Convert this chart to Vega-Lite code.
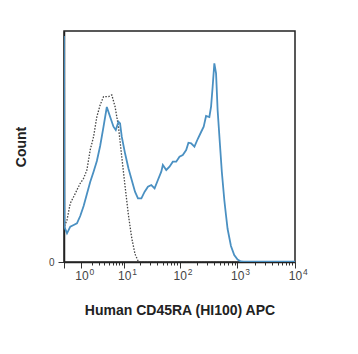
{
  "$schema": "https://vega.github.io/schema/vega-lite/v6.json",
  "width": 231,
  "height": 231,
  "autosize": {"type": "none"},
  "padding": {"left": 64, "top": 31, "right": 63, "bottom": 92},
  "background": "white",
  "config": {"view": {"stroke": "#222", "strokeWidth": 1.5}, "font": "Liberation Sans"},
  "data": {"values": [
    {"series": "CD45RA", "x": 0, "count": 226},
    {"series": "CD45RA", "x": 0.02, "count": 35},
    {"series": "CD45RA", "x": 0.127, "count": 28.7},
    {"series": "CD45RA", "x": 0.284, "count": 35.3},
    {"series": "CD45RA", "x": 0.47, "count": 37},
    {"series": "CD45RA", "x": 0.675, "count": 38.7},
    {"series": "CD45RA", "x": 0.91, "count": 46},
    {"series": "CD45RA", "x": 1.187, "count": 56},
    {"series": "CD45RA", "x": 1.492, "count": 68},
    {"series": "CD45RA", "x": 1.841, "count": 80},
    {"series": "CD45RA", "x": 2.251, "count": 90.3},
    {"series": "CD45RA", "x": 2.707, "count": 101},
    {"series": "CD45RA", "x": 3.226, "count": 116},
    {"series": "CD45RA", "x": 3.836, "count": 135.3},
    {"series": "CD45RA", "x": 4.513, "count": 155},
    {"series": "CD45RA", "x": 5.285, "count": 145.3},
    {"series": "CD45RA", "x": 6.193, "count": 135.3},
    {"series": "CD45RA", "x": 6.883, "count": 132},
    {"series": "CD45RA", "x": 7.773, "count": 140.3},
    {"series": "CD45RA", "x": 8.346, "count": 138.7},
    {"series": "CD45RA", "x": 9.0, "count": 125.3},
    {"series": "CD45RA", "x": 10.4, "count": 108.7},
    {"series": "CD45RA", "x": 12.05, "count": 93.7},
    {"series": "CD45RA", "x": 13.88, "count": 82},
    {"series": "CD45RA", "x": 15.96, "count": 70.3},
    {"series": "CD45RA", "x": 18.1, "count": 63.7},
    {"series": "CD45RA", "x": 20.87, "count": 63.7},
    {"series": "CD45RA", "x": 23.93, "count": 70.3},
    {"series": "CD45RA", "x": 27.41, "count": 75.3},
    {"series": "CD45RA", "x": 31.51, "count": 77},
    {"series": "CD45RA", "x": 36.07, "count": 73.7},
    {"series": "CD45RA", "x": 41.27, "count": 82},
    {"series": "CD45RA", "x": 47.36, "count": 90.3},
    {"series": "CD45RA", "x": 50.5, "count": 97},
    {"series": "CD45RA", "x": 57.98, "count": 92},
    {"series": "CD45RA", "x": 66.2, "count": 95.3},
    {"series": "CD45RA", "x": 75.6, "count": 100.3},
    {"series": "CD45RA", "x": 86.7, "count": 100.3},
    {"series": "CD45RA", "x": 99, "count": 105.3},
    {"series": "CD45RA", "x": 113, "count": 107},
    {"series": "CD45RA", "x": 129.5, "count": 112},
    {"series": "CD45RA", "x": 141.9, "count": 119.3},
    {"series": "CD45RA", "x": 158.1, "count": 118.7},
    {"series": "CD45RA", "x": 180.4, "count": 115.3},
    {"series": "CD45RA", "x": 205.8, "count": 123},
    {"series": "CD45RA", "x": 235.6, "count": 130},
    {"series": "CD45RA", "x": 261.4, "count": 135.3},
    {"series": "CD45RA", "x": 287.4, "count": 146},
    {"series": "CD45RA", "x": 327.9, "count": 145},
    {"series": "CD45RA", "x": 351.1, "count": 155.3},
    {"series": "CD45RA", "x": 374, "count": 175.3},
    {"series": "CD45RA", "x": 400.2, "count": 198.7},
    {"series": "CD45RA", "x": 428.5, "count": 188.7},
    {"series": "CD45RA", "x": 456.1, "count": 152},
    {"series": "CD45RA", "x": 500, "count": 118},
    {"series": "CD45RA", "x": 540, "count": 90},
    {"series": "CD45RA", "x": 596, "count": 62},
    {"series": "CD45RA", "x": 637, "count": 47},
    {"series": "CD45RA", "x": 680, "count": 33},
    {"series": "CD45RA", "x": 777, "count": 16},
    {"series": "CD45RA", "x": 886, "count": 7},
    {"series": "CD45RA", "x": 1013, "count": 2.5},
    {"series": "CD45RA", "x": 1150, "count": 0.6},
    {"series": "CD45RA", "x": 1300, "count": 0.3},
    {"series": "CD45RA", "x": 10000, "count": 0.3},
    {"series": "isotype", "x": 0.02, "count": 36},
    {"series": "isotype", "x": 0.127, "count": 42},
    {"series": "isotype", "x": 0.284, "count": 58.7},
    {"series": "isotype", "x": 0.47, "count": 65.3},
    {"series": "isotype", "x": 0.675, "count": 72},
    {"series": "isotype", "x": 0.91, "count": 78.7},
    {"series": "isotype", "x": 1.187, "count": 83.7},
    {"series": "isotype", "x": 1.492, "count": 92},
    {"series": "isotype", "x": 1.841, "count": 112},
    {"series": "isotype", "x": 2.251, "count": 125.3},
    {"series": "isotype", "x": 2.707, "count": 145.3},
    {"series": "isotype", "x": 3.226, "count": 157},
    {"series": "isotype", "x": 3.836, "count": 165.3},
    {"series": "isotype", "x": 4.897, "count": 165.3},
    {"series": "isotype", "x": 5.724, "count": 167},
    {"series": "isotype", "x": 6.664, "count": 155.3},
    {"series": "isotype", "x": 7.773, "count": 135.3},
    {"series": "isotype", "x": 9.0, "count": 105.3},
    {"series": "isotype", "x": 10.4, "count": 76},
    {"series": "isotype", "x": 12.05, "count": 47},
    {"series": "isotype", "x": 13.88, "count": 24},
    {"series": "isotype", "x": 15.96, "count": 8},
    {"series": "isotype", "x": 18.41, "count": 0.3},
    {"series": "isotype", "x": 10000, "count": 0.3}
  ]},
  "layer": [
    {
      "transform": [{"filter": "datum.series === 'isotype'"}],
      "mark": {"type": "line", "color": "#444", "strokeDash": [1.5, 1.5], "strokeWidth": 1.3, "clip": true},
      "encoding": {
        "x": {
          "field": "x",
          "type": "quantitative",
          "scale": {"type": "symlog", "constant": 1, "domain": [0, 10000], "nice": false},
          "axis": {
            "title": "Human CD45RA (HI100) APC",
            "titleFontSize": 14,
            "titleFontWeight": "bold",
            "titleColor": "#222",
            "titlePadding": 22,
            "values": [0, 1, 2, 3, 4, 5, 6, 7, 8, 9, 10, 20, 30, 40, 50, 60, 70, 80, 90, 100, 200, 300, 400, 500, 600, 700, 800, 900, 1000, 2000, 3000, 4000, 5000, 6000, 7000, 8000, 9000, 10000],
            "labelExpr": "indexof([1, 10, 100, 1000, 10000], datum.value) >= 0 ? '10' : ''",
            "labelFontSize": 12,
            "labelColor": "#444",
            "labelPadding": 2,
            "labelOverlap": false,
            "labelFlush": false,
            "tickSize": {"condition": {"test": "indexof([0, 1, 10, 100, 1000, 10000], datum.value) >= 0", "value": 6}, "value": 3},
            "tickColor": "#333",
            "domainColor": "#222",
            "domainWidth": 1.5,
            "grid": false
          }
        },
        "y": {
          "field": "count",
          "type": "quantitative",
          "scale": {"domain": [0, 231], "nice": false},
          "axis": {
            "title": "Count",
            "titleFontSize": 14,
            "titleFontWeight": "bold",
            "titleColor": "#222",
            "titlePadding": 20,
            "values": [0],
            "tickSize": 6,
            "tickColor": "#333",
            "labelPadding": 4,
            "labelFontSize": 10,
            "labelColor": "#444",
            "domainColor": "#222",
            "domainWidth": 1.5,
            "grid": false
          }
        }
      }
    },
    {
      "transform": [{"filter": "datum.series === 'CD45RA'"}],
      "mark": {"type": "line", "color": "#4a90c2", "strokeWidth": 1.8, "clip": true},
      "encoding": {
        "x": {
          "field": "x",
          "type": "quantitative",
          "scale": {"type": "symlog", "constant": 1, "domain": [0, 10000], "nice": false},
          "axis": {
            "orient": "top",
            "offset": -245,
            "title": null,
            "domain": false,
            "ticks": false,
            "grid": false,
            "values": [1, 10, 100, 1000, 10000],
            "labelExpr": "format(log(datum.value) / log(10), '.0f')",
            "labelFontSize": 8.5,
            "labelColor": "#444",
            "labelPadding": 0,
            "labelAlign": "left",
            "labelOffset": 7.5,
            "labelOverlap": false,
            "labelFlush": false
          }
        },
        "y": {
          "field": "count",
          "type": "quantitative",
          "scale": {"domain": [0, 231], "nice": false},
          "axis": {
            "title": "Count",
            "titleFontSize": 14,
            "titleFontWeight": "bold",
            "titleColor": "#222",
            "titlePadding": 20,
            "values": [0],
            "tickSize": 6,
            "tickColor": "#333",
            "labelPadding": 4,
            "labelFontSize": 10,
            "labelColor": "#444",
            "domainColor": "#222",
            "domainWidth": 1.5,
            "grid": false
          }
        }
      }
    }
  ],
  "resolve": {"axis": {"x": "independent"}}
}
